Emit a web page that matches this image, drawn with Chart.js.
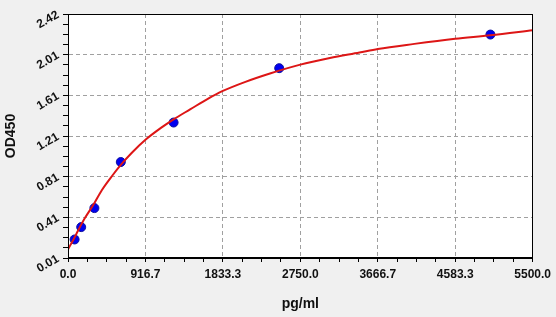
<!DOCTYPE html>
<html>
<head>
<meta charset="utf-8">
<script src="https://cdn.jsdelivr.net/npm/chart.js@4"></script>
<style>
html,body{margin:0;padding:0;background:#f0f0f0;}
#wrap{width:556px;height:317px;position:relative;}
</style>
</head>
<body>
<div id="wrap"><canvas id="c" width="556" height="317"></canvas></div>
<script>
// Standard points (concentration pg/ml, OD450)
const stdX = [78.125, 156.25, 312.5, 625, 1250, 2500, 5000];
const stdY = [0.193, 0.315, 0.503, 0.958, 1.348, 1.885, 2.217];

// Fitted curve
const curveX = [0, 50, 100, 150, 200, 300, 400, 530, 625, 750, 920, 1100, 1250, 1450, 1650, 1833, 2100, 2400, 2750, 3100, 3450, 3667, 4100, 4583, 5000, 5500];
const curveY = [0.095, 0.17, 0.25, 0.33, 0.405, 0.535, 0.68, 0.83, 0.93, 1.045, 1.18, 1.295, 1.38, 1.48, 1.58, 1.66, 1.75, 1.835, 1.92, 1.985, 2.04, 2.075, 2.125, 2.175, 2.21, 2.26];

// Tick labels
const xTickLabels = ["0.0", "916.7", "1833.3", "2750.0", "3666.7", "4583.3", "5500.0"];
const yTickLabels = ["0.01", "0.41", "0.81", "1.21", "1.61", "2.01", "2.42"];

const xMin = 0, xMax = 5500, yMin = 0.01, yMax = 2.42;
const minorPerMajor = 4;

function buildTicks(min, max, labels) {
  const n = labels.length - 1;
  const ticks = [];
  for (let i = 0; i <= n; i++) {
    const v = min + (max - min) * i / n;
    ticks.push({value: v, label: labels[i], major: true});
    if (i < n) {
      for (let k = 1; k < minorPerMajor; k++) {
        ticks.push({value: v + (max - min) / n * k / minorPerMajor, label: '', minor: true});
      }
    }
  }
  return ticks;
}

const font = {family: '"Liberation Sans", Arial, sans-serif', weight: 'bold', size: 12};

const bgPlugin = {
  id: 'bg',
  beforeDraw(chart) {
    const {ctx, chartArea: a} = chart;
    ctx.save();
    ctx.fillStyle = '#f0f0f0';
    ctx.fillRect(0, 0, chart.width, chart.height);
    ctx.fillStyle = '#ffffff';
    ctx.fillRect(a.left, a.top, a.right - a.left, a.bottom - a.top);
    ctx.restore();
  },
  afterDraw(chart) {
    const {ctx, chartArea: a} = chart;
    ctx.save();
    ctx.strokeStyle = '#000';
    ctx.lineWidth = 1;
    ctx.strokeRect(Math.round(a.left) + 0.5, Math.round(a.top) + 0.5, Math.round(a.right - a.left) - 1, Math.round(a.bottom - a.top) - 1);
    ctx.restore();
  }
};

function gridColor(ctx) {
  if (!ctx.tick || ctx.tick.minor) return 'rgba(0,0,0,0)';
  if (ctx.index === 0 || ctx.index === ctx.scale.ticks.length - 1) return 'rgba(0,0,0,0)';
  return '#a0a0a0';
}

new Chart(document.getElementById('c'), {
  type: 'scatter',
  data: {
    datasets: [
      {
        type: 'line',
        data: curveX.map((x, i) => ({x: x, y: curveY[i]})),
        borderColor: '#dd1616',
        borderWidth: 2,
        pointRadius: 0,
        fill: false,
        cubicInterpolationMode: 'monotone',
        order: 0
      },
      {
        data: stdX.map((x, i) => ({x: x, y: stdY[i]})),
        backgroundColor: '#0000f0',
        borderColor: '#1010a0',
        borderWidth: 1,
        pointRadius: 4.5,
        order: 1
      }
    ]
  },
  options: {
    responsive: false,
    animation: false,
    events: [],
    layout: {padding: {top: 14, right: 23, left: 0, bottom: 0}},
    plugins: {legend: {display: false}, tooltip: {enabled: false}},
    scales: {
      x: {
        type: 'linear',
        min: xMin, max: xMax,
        afterBuildTicks(scale) { scale.ticks = buildTicks(xMin, xMax, xTickLabels); },
        afterFit(scale) { scale.height = 59; },
        ticks: {
          autoSkip: false, maxRotation: 0, minRotation: 0,
          color: '#111', font: font, padding: 5,
          callback(v, i, ticks) { return ticks[i].label; }
        },
        grid: {
          color: gridColor, lineWidth: 1,
          drawTicks: true, tickLength: 4, tickColor: '#000', tickWidth: 1
        },
        border: {display: true, color: '#000', width: 1, dash: [4, 3]},
        title: {
          display: true, text: 'pg/ml', color: '#111',
          font: {family: '"Liberation Sans", Arial, sans-serif', weight: 'bold', size: 14},
          padding: {top: 0, bottom: 4}
        }
      },
      y: {
        type: 'linear',
        min: yMin, max: yMax,
        afterBuildTicks(scale) { scale.ticks = buildTicks(yMin, yMax, yTickLabels); },
        afterFit(scale) { scale.width = 68; },
        ticks: {
          autoSkip: false, minRotation: 30, maxRotation: 30,
          color: '#111', font: font, padding: 5,
          callback(v, i, ticks) { return ticks[i].label; }
        },
        grid: {
          color: gridColor, lineWidth: 1,
          drawTicks: true, tickLength: 5, tickColor: '#000', tickWidth: 1
        },
        border: {display: true, color: '#000', width: 1, dash: [4, 3]},
        title: {
          display: true, text: 'OD450', color: '#111',
          font: {family: '"Liberation Sans", Arial, sans-serif', weight: 'bold', size: 14},
          padding: {top: 3, bottom: 0}
        }
      }
    }
  },
  plugins: [bgPlugin]
});
</script>
</body>
</html>
